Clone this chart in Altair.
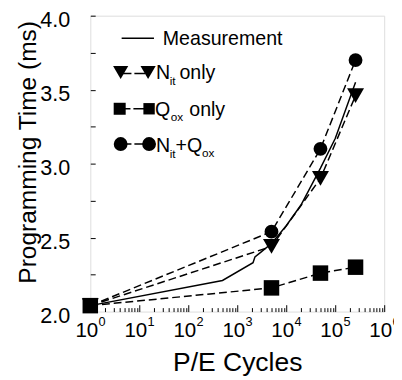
import altair as alt
import pandas as pd

FONT = "Liberation Sans"

# ---- data ----
model_cycles = [1, 5000, 50000, 260000]
nit_only = [2.04, 2.44, 2.90, 3.46]
qox_only = [2.04, 2.16, 2.26, 2.30]
nit_qox = [2.04, 2.54, 3.10, 3.70]
series_names = ["Nit only", "Qox only", "Nit+Qox"]

meas_cycles = [1, 500, 2100, 2300, 3000, 5000, 10000, 20000, 50000, 100000, 260000]
meas_time = [2.04, 2.21, 2.33, 2.37, 2.40, 2.46, 2.58, 2.72, 2.97, 3.17, 3.55]

major_x = [1, 10, 100, 1000, 10000, 100000, 1000000]
minor_x = [m * 10 ** k for k in range(6) for m in range(2, 10)]
y_ticks = [2.0, 2.25, 2.5, 2.75, 3.0, 3.25, 3.5, 3.75, 4.0]

# ---- tables ----
meas_df = pd.DataFrame({"cycles": meas_cycles, "time": meas_time})
rows = []
for name, vals in zip(series_names, [nit_only, qox_only, nit_qox]):
    for c, v in zip(model_cycles, vals):
        rows.append({"series": name, "cycles": c, "time": v})
model_df = pd.DataFrame(rows)

xs = alt.Scale(type="log", domain=[1, 1e6], nice=False)
ys = alt.Scale(domain=[2, 4], nice=False, zero=False)

# origin of plot area in page pixels (for the hand-drawn legend)
OX, OY = 92, 12

measurement = alt.Chart(meas_df).mark_line(color="black", strokeWidth=1.5).encode(
    x=alt.X("cycles:Q", scale=xs, axis=alt.Axis(
        orient="bottom", values=major_x, labelExpr="'10'", labelFlush=False,
        domain=False, ticks=True, tickSize=7, offset=-7, labelPadding=8,
        labelOffset=-4, labelFontSize=21, labelFont=FONT, labelColor="black",
        tickColor="black", grid=False, title="P/E Cycles", titleFont=FONT,
        titleFontSize=27, titleFontWeight="normal", titleColor="black",
        titlePadding=10)),
    y=alt.Y("time:Q", scale=ys, axis=alt.Axis(
        orient="left", values=y_ticks,
        labelExpr="(datum.value * 2) % 1 == 0 ? format(datum.value, '.1f') : ''",
        domain=False, tickSize=5, offset=-5, labelPadding=21, labelOffset=4,
        labelFontSize=22, labelFont=FONT, labelColor="black", tickColor="black",
        grid=False, title="Programming Time (ms)", titleFont=FONT,
        titleFontSize=25, titleFontWeight="normal", titleColor="black",
        titleX=-56, titleY=139)),
)

models = alt.Chart(model_df).mark_line(color="black", strokeWidth=1.5, strokeDash=[8, 4]).encode(
    x=alt.X("cycles:Q", scale=xs, axis=alt.Axis(
        orient="bottom", values=minor_x, labels=False, domain=False,
        tickSize=4, offset=-4, tickColor="black", grid=False, title=None)),
    y=alt.Y("time:Q", scale=ys, axis=None),
    detail="series:N",
)

points = alt.Chart(model_df).mark_point(filled=True, opacity=1, color="black").encode(
    x=alt.X("cycles:Q", scale=xs, axis=alt.Axis(
        orient="bottom", values=major_x,
        labelExpr="'' + round(log(datum.value) / LN10)", labelFlush=False,
        domain=False, ticks=False, labelPadding=4, labelOffset=11.5,
        labelFontSize=13, labelFont=FONT, labelColor="black", grid=False,
        title=None)),
    y=alt.Y("time:Q", scale=ys, axis=None),
    shape=alt.Shape("series:N", scale=alt.Scale(domain=series_names,
                    range=["triangle-down", "square", "circle"]), legend=None),
    size=alt.Size("series:N", scale=alt.Scale(domain=series_names,
                  range=[300, 200, 260]), legend=None),
)

one = alt.Data(values=[{}])


def txt(s, x, y, size=20):
    return alt.Chart(one).mark_text(text=s, align="left", baseline="alphabetic",
                                    fontSize=size, font=FONT, color="black").encode(
        x=alt.value(x - OX), y=alt.value(y - OY))


def sym(shape, x, y, size):
    return alt.Chart(one).mark_point(shape=shape, filled=True, opacity=1,
                                     color="black", size=size).encode(
        x=alt.value(x - OX), y=alt.value(y - OY))


def seg(x1, x2, y, dash=None):
    kw = {"color": "black", "strokeWidth": 1.5}
    if dash:
        kw["strokeDash"] = dash
    return alt.Chart(one).mark_rule(**kw).encode(
        x=alt.value(x1 - OX), x2=alt.value(x2 - OX), y=alt.value(y - OY))


legend = [
    seg(124, 157, 35),
    txt("Measurement", 166, 42),
    seg(123, 152, 71, [11, 3]),
    sym("triangle-down", 123, 70, 240),
    sym("triangle-down", 151, 70, 240),
    txt("N", 159, 77), txt("it", 173, 83, 12), txt("only", 183, 77),
    seg(122, 152, 107, [11, 3]),
    sym("square", 122, 107, 150),
    sym("square", 152, 107, 135),
    txt("Q", 158, 114), txt("ox", 174, 119, 12), txt("only", 193, 114),
    seg(123, 152, 143, [11, 3]),
    sym("circle", 123, 143, 200),
    sym("circle", 152, 143, 200),
    txt("N", 159, 151), txt("it", 173, 157, 12), txt("+Q", 179, 151),
    txt("ox", 206, 156, 12),
]

chart = alt.layer(measurement, models, points, *legend).resolve_axis(
    x="independent", y="independent"
).properties(
    width=300, height=302, autosize="none",
    padding={"left": 84, "top": 4, "right": 10, "bottom": 66},
).configure_view(stroke="black", strokeWidth=1.5).configure(background="white")

chart.save("out.html", embed_options={"renderer": "svg", "actions": False})
